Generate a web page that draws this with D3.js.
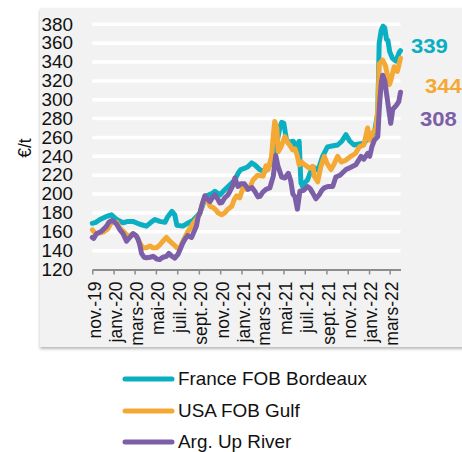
<!DOCTYPE html>
<html><head><meta charset="utf-8">
<script src="https://cdn.jsdelivr.net/npm/d3@7"></script>
<style>
html,body{margin:0;padding:0;background:#fff;}
svg text{font-family:"Liberation Sans",Arial,sans-serif;}
</style></head>
<body>
<svg id="chart" width="462" height="452"></svg>
<script>
// ---- data ----
const seriesNames = ["France FOB Bordeaux", "USA FOB Gulf", "Arg. Up River"];
const seriesColors = ["#0AAFC2", "#F5A935", "#7C5FA6"];
const endLabels = ["339", "344", "308"];
const yTicks = [120,140,160,180,200,220,240,260,280,300,320,340,360,380];
const tickDates = ["2019-11-01","2020-01-01","2020-03-01","2020-05-01","2020-07-01","2020-09-01","2020-11-01","2021-01-01","2021-03-01","2021-05-01","2021-07-01","2021-09-01","2021-11-01","2022-01-01","2022-03-01"];
const tickLabels = ["nov.-19","janv.-20","mars-20","mai-20","juil.-20","sept.-20","nov.-20","janv.-21","mars-21","mai-21","juil.-21","sept.-21","nov.-21","janv.-22","mars-22"];
const xDomain = ["2019-11-01","2022-04-01"];

const france = [
["2019-11-01",169],["2019-11-11",170],["2019-11-23",173],["2019-12-10",176],["2019-12-26",178],
["2020-01-10",173],["2020-01-28",169.6],["2020-02-11",171],["2020-02-25",171],["2020-03-16",168],
["2020-04-04",166],["2020-04-17",170],["2020-04-28",173],["2020-05-12",171],["2020-05-27",170],
["2020-06-04",176],["2020-06-16",181.6],["2020-06-24",178],["2020-06-30",167],["2020-07-17",166],
["2020-07-31",169],["2020-08-15",172],["2020-08-25",176],["2020-09-04",180],["2020-09-13",189],
["2020-09-18",197.5],["2020-09-28",199],["2020-10-11",201],["2020-10-17",203],["2020-10-31",199],
["2020-11-14",204.6],["2020-12-04",211.6],["2020-12-13",215],["2020-12-22",222],["2020-12-30",226],
["2021-01-11",227.5],["2021-01-19",229],["2021-01-30",233],["2021-02-08",231],["2021-02-23",225.7],
["2021-03-09",224],["2021-03-23",231],["2021-04-02",243],["2021-04-11",252],["2021-04-21",271],
["2021-04-26",276],["2021-05-02",275],["2021-05-10",257],["2021-05-19",255],["2021-05-29",256],
["2021-06-06",249],["2021-06-15",256],["2021-06-20",212],["2021-06-25",208],["2021-07-01",212],
["2021-07-09",215],["2021-07-16",222],["2021-07-23",229],["2021-08-02",227],["2021-08-08",225],
["2021-08-21",240],["2021-09-04",250],["2021-09-17",251],["2021-10-03",252],["2021-10-15",256],
["2021-10-27",263],["2021-11-07",256],["2021-11-19",252],["2021-12-03",253],["2021-12-18",254],
["2022-01-01",261],["2022-01-16",264.5],["2022-01-26",286],["2022-01-30",360],["2022-02-05",374],
["2022-02-10",378],["2022-02-15",376],["2022-02-20",364],["2022-02-24",363],["2022-03-01",351],
["2022-03-09",344],["2022-03-19",341],["2022-03-28",350],["2022-04-01",352]
];
const usa = [
["2019-11-01",162],["2019-11-11",158],["2019-11-23",159],["2019-12-04",160],["2019-12-15",163],
["2019-12-26",170],["2020-01-10",170],["2020-01-19",164],["2020-01-30",160],["2020-02-11",155],
["2020-02-25",158],["2020-03-07",155],["2020-03-16",148],["2020-03-25",143],["2020-04-04",143],
["2020-04-14",145],["2020-04-22",143],["2020-05-03",143],["2020-05-12",146],["2020-05-21",150],
["2020-05-31",154],["2020-06-10",150],["2020-06-19",147],["2020-06-30",143],["2020-07-09",143],
["2020-07-20",152],["2020-07-31",160],["2020-08-16",169],["2020-08-26",174],["2020-09-04",180],
["2020-09-12",190],["2020-09-18",197],["2020-09-27",192],["2020-10-03",187],["2020-10-11",186],
["2020-10-20",183],["2020-10-26",180],["2020-11-05",178],["2020-11-14",180],["2020-11-23",184],
["2020-12-04",187],["2020-12-11",194],["2020-12-18",198],["2020-12-27",196],["2021-01-06",208],
["2021-01-15",205],["2021-01-25",207],["2021-02-03",215],["2021-02-16",220],["2021-03-04",219],
["2021-03-12",230],["2021-03-18",226],["2021-03-28",240],["2021-04-02",262],["2021-04-06",277],
["2021-04-12",270],["2021-04-16",245],["2021-04-24",250],["2021-05-05",261],["2021-05-14",254],
["2021-05-19",252],["2021-05-27",247],["2021-06-03",248],["2021-06-10",240],["2021-06-15",231],
["2021-06-22",234],["2021-07-01",231],["2021-07-14",227.5],["2021-07-25",229],["2021-07-28",219],
["2021-08-07",213],["2021-08-16",229],["2021-08-26",240],["2021-09-02",233],["2021-09-14",226],
["2021-09-22",231],["2021-10-03",240],["2021-10-14",234],["2021-10-27",236],["2021-11-10",240],
["2021-11-23",243],["2021-12-04",250],["2021-12-17",252],["2021-12-28",270],["2022-01-03",257],
["2022-01-11",264.5],["2022-01-21",270],["2022-01-26",289],["2022-01-30",338],["2022-02-09",342],
["2022-02-17",336],["2022-02-28",316],["2022-03-04",320],["2022-03-14",335],["2022-03-23",330],
["2022-04-01",344]
];
const arg = [
["2019-11-01",154],["2019-11-05",153],["2019-11-13",158],["2019-11-25",160],["2019-12-04",163],
["2019-12-12",166],["2019-12-18",170],["2019-12-26",172],["2020-01-02",171],["2020-01-10",168],
["2020-01-19",162],["2020-01-28",158],["2020-02-07",150],["2020-02-16",154],["2020-02-26",158],
["2020-03-05",156],["2020-03-11",152],["2020-03-16",146],["2020-03-21",137],["2020-03-28",133],
["2020-04-04",132.5],["2020-04-14",133],["2020-04-23",134],["2020-05-04",131],["2020-05-12",130.5],
["2020-05-21",133],["2020-05-31",134],["2020-06-07",137],["2020-06-16",134],["2020-06-24",132],
["2020-07-03",136],["2020-07-09",141],["2020-07-17",148],["2020-07-23",152],["2020-07-31",156],
["2020-08-11",154],["2020-08-18",160],["2020-08-25",166],["2020-08-30",176],["2020-09-04",180],
["2020-09-11",190],["2020-09-18",198],["2020-09-27",194],["2020-10-03",192],["2020-10-11",197],
["2020-10-17",199],["2020-10-26",194],["2020-10-31",190.5],["2020-11-06",191],["2020-11-14",196],
["2020-11-23",199],["2020-11-29",203],["2020-12-07",209],["2020-12-13",217],["2020-12-22",208],
["2020-12-30",211],["2021-01-09",211],["2021-01-20",205],["2021-01-31",207],["2021-02-08",203],
["2021-02-17",197],["2021-02-23",197.5],["2021-03-03",202],["2021-03-12",205],["2021-03-23",206.5],
["2021-04-02",219],["2021-04-09",241],["2021-04-15",230],["2021-04-26",218],["2021-05-05",217],
["2021-05-15",222],["2021-05-22",214],["2021-05-28",200],["2021-06-03",197],["2021-06-10",184],
["2021-06-17",203],["2021-06-28",204],["2021-07-09",208],["2021-07-16",206],["2021-07-24",201],
["2021-08-02",195],["2021-08-11",199],["2021-08-19",204],["2021-08-26",206.5],["2021-09-05",208],
["2021-09-19",208],["2021-09-28",218],["2021-10-10",220],["2021-10-27",226],["2021-11-07",228],
["2021-11-24",231],["2021-12-09",240],["2021-12-17",237],["2021-12-28",243],["2022-01-03",240],
["2022-01-09",250],["2022-01-16",257],["2022-01-26",261],["2022-01-31",295],["2022-02-05",318],
["2022-02-09",326],["2022-02-15",320],["2022-02-24",296],["2022-03-04",275],["2022-03-10",290],
["2022-03-20",294],["2022-03-27",298],["2022-04-01",308]
];
const seriesData = [france, usa, arg];

// ---- chart ----
const parse = d3.timeParse("%Y-%m-%d");
const svg = d3.select("#chart");
const STRETCH = 1.08;
const FONT = 17.5;

const defs = svg.append("defs");
const f = defs.append("filter").attr("id","shadow").attr("x","-5%").attr("y","-5%").attr("width","110%").attr("height","115%");
f.append("feDropShadow").attr("dx",0).attr("dy",2).attr("stdDeviation",1.5).attr("flood-color","#888").attr("flood-opacity",0.6);

svg.append("rect").attr("x",40).attr("y",8).attr("width",430).attr("height",339)
  .attr("fill","#f2f2f2").attr("filter","url(#shadow)");

const x = d3.scaleTime().domain(xDomain.map(parse)).range([92.3, 400.5]);
const y = d3.scaleLinear().domain([120,380]).range([269.5, 24.3]);

// gridlines
svg.append("g").selectAll("line").data(yTicks.filter(v => v > 120)).join("line")
  .attr("x1", x.range()[0]).attr("x2", x.range()[1])
  .attr("y1", d => y(d)).attr("y2", d => y(d))
  .attr("stroke","#fff").attr("stroke-width",3.5);

// y labels
svg.append("g").selectAll("text").data(yTicks).join("text")
  .attr("transform", d => `translate(73,${y(d)}) scale(${STRETCH},1)`)
  .attr("text-anchor","end").attr("dy","0.36em")
  .attr("font-size",FONT).attr("fill","#111").text(d => d);

// y title
svg.append("text").attr("transform","translate(25,148) rotate(-90)")
  .attr("text-anchor","middle").attr("dy","0.36em").attr("font-size",FONT).attr("fill","#111").text("€/t");

// x axis
const xAxis = d3.axisBottom(x).tickValues(tickDates.map(parse)).tickSize(5).tickSizeOuter(0)
  .tickFormat((d,i) => tickLabels[i]);
const gx = svg.append("g").attr("transform",`translate(0,${y(120)})`).call(xAxis);
gx.select(".domain").attr("stroke","#8c8c8c").attr("stroke-width",2);
gx.selectAll(".tick line").attr("stroke","#8c8c8c").attr("stroke-width",1.5);
gx.selectAll(".tick text")
  .attr("font-size",FONT).attr("fill","#111").attr("font-family",'"Liberation Sans",Arial,sans-serif')
  .attr("text-anchor","end").attr("transform","rotate(-90)")
  .attr("x",-12).attr("y",1.5).attr("dy","0.36em");

// lines
const line = d3.line().x(d => x(parse(d[0]))).y(d => y(d[1])).curve(d3.curveLinear);
svg.append("g").selectAll("path").data(seriesData).join("path")
  .attr("d", line).attr("fill","none")
  .attr("stroke",(d,i) => seriesColors[i]).attr("stroke-width",5)
  .attr("stroke-linejoin","round").attr("stroke-linecap","round");

// end labels
const endPos = [[411,46],[425,86],[420,119]];
svg.append("g").selectAll("text").data(endLabels).join("text")
  .attr("transform",(d,i) => `translate(${endPos[i][0]},${endPos[i][1]}) scale(${STRETCH},1)`)
  .attr("dy","0.36em").attr("font-size",20.5).attr("font-weight","bold")
  .attr("fill",(d,i) => seriesColors[i]).text(d => d);

// legend
const legY = [379, 411, 442];
const lg = svg.append("g").selectAll("g").data(seriesNames).join("g");
lg.append("line").attr("x1",125).attr("x2",172).attr("y1",(d,i)=>legY[i]).attr("y2",(d,i)=>legY[i])
  .attr("stroke",(d,i)=>seriesColors[i]).attr("stroke-width",5).attr("stroke-linecap","round");
lg.append("text").attr("transform",(d,i)=>`translate(178,${legY[i]}) scale(${STRETCH},1)`)
  .attr("dy","0.36em").attr("font-size",FONT).attr("fill","#111").text(d => d);
</script>
</body></html>
